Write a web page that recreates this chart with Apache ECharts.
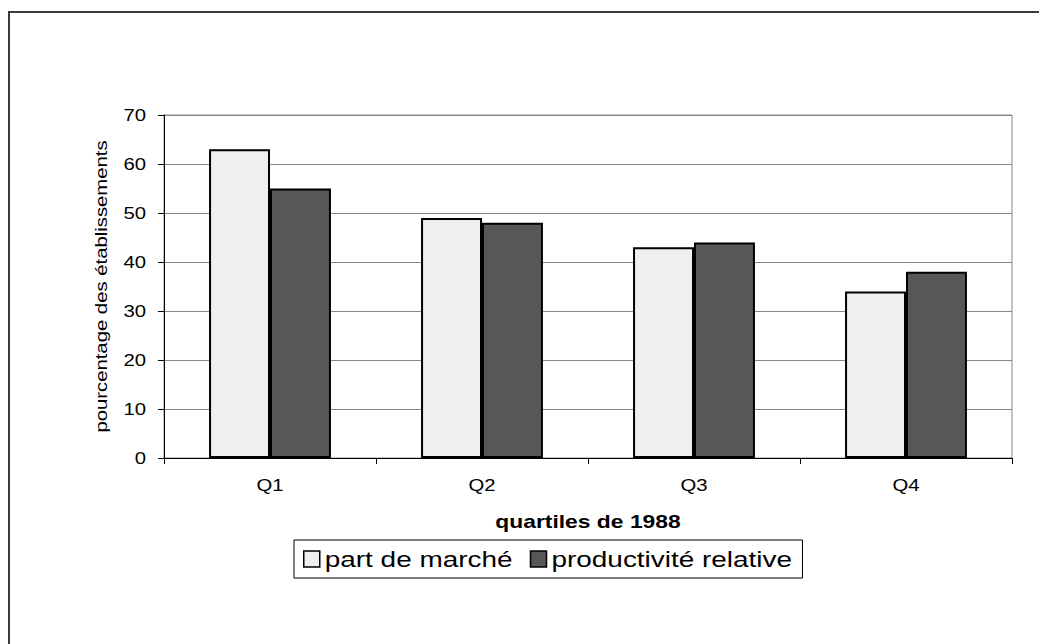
<!DOCTYPE html>
<html>
<head>
<meta charset="utf-8">
<script src="https://cdn.jsdelivr.net/npm/echarts@6/dist/echarts.min.js"></script>
<style>
html,body{margin:0;padding:0;background:#fff;}
#chart{width:1039px;height:644px;}
</style>
</head>
<body>
<div id="chart"></div>
<script>
var categories = ['Q1', 'Q2', 'Q3', 'Q4'];
var partDeMarche = [63, 49, 43, 34];
var productiviteRelative = [55, 48, 44, 38];
var seriesNames = ['part de marché', 'productivité relative'];
var yTicks = {min: 0, max: 70, interval: 10};
var xAxisTitle = 'quartiles de 1988';
var yAxisTitle = 'pourcentage des établissements';

var FONT = '"Liberation Sans", Arial, sans-serif';
var SX = 1.27; // the reference text is horizontally stretched
var chart = echarts.init(document.getElementById('chart'), null, {renderer: 'svg'});
chart.setOption({
  backgroundColor: '#ffffff',
  animation: false,
  graphic: [{
    type: 'rect',
    shape: {x: 9, y: 12, width: 1100, height: 700},
    style: {fill: 'none', stroke: '#3a3a3a', lineWidth: 2},
    silent: true,
    z: 100
  }],
  grid: {
    left: 164, right: 27, top: 115, bottom: 186,
    show: true, borderColor: '#868686', borderWidth: 1, backgroundColor: 'transparent'
  },
  legend: {
    data: seriesNames,
    left: 294, top: 540,
    orient: 'horizontal',
    padding: [8, 10, 8, 9],
    itemGap: 10,
    itemWidth: 16, itemHeight: 16,
    icon: 'rect',
    borderColor: '#000', borderWidth: 1,
    formatter: function (name) {
      return (name === seriesNames[0] ? '{a|' : '{b|') + name + '}';
    },
    textStyle: {
      fontFamily: FONT, fontSize: 22, color: '#000',
      rich: {
        a: {fontFamily: FONT, fontSize: 22, color: '#000', width: 195, lineHeight: 21},
        b: {fontFamily: FONT, fontSize: 22, color: '#000', width: 241, lineHeight: 21}
      }
    },
    itemStyle: {borderColor: '#000', borderWidth: 1.5}
  },
  xAxis: {
    type: 'category',
    data: categories,
    boundaryGap: true,
    name: xAxisTitle,
    nameLocation: 'middle',
    nameGap: 54,
    nameTextStyle: {fontFamily: FONT, fontSize: 18, fontWeight: 'bold', color: '#000'},
    axisLine: {show: true, lineStyle: {color: '#000', width: 1}},
    axisTick: {show: true, alignWithLabel: false, length: 6, lineStyle: {color: '#000'}},
    axisLabel: {fontFamily: FONT, fontSize: 16, color: '#000', margin: 19},
    splitLine: {show: false}
  },
  yAxis: {
    type: 'value',
    min: yTicks.min, max: yTicks.max, interval: yTicks.interval,
    name: yAxisTitle,
    nameLocation: 'middle',
    nameRotate: 90,
    nameGap: 55,
    nameTextStyle: {fontFamily: FONT, fontSize: 16, color: '#000'},
    axisLine: {show: true, lineStyle: {color: '#000', width: 1}},
    axisTick: {show: true, length: 6, lineStyle: {color: '#000'}},
    axisLabel: {fontFamily: FONT, fontSize: 16, color: '#000', margin: 18},
    splitLine: {show: true, lineStyle: {color: '#868686', width: 1}}
  },
  series: [{
    name: seriesNames[0],
    type: 'bar',
    data: partDeMarche,
    barGap: '0%',
    barCategoryGap: '42.5%',
    itemStyle: {color: '#efefef', borderColor: '#000', borderWidth: 2}
  }, {
    name: seriesNames[1],
    type: 'bar',
    data: productiviteRelative,
    barGap: '0%',
    barCategoryGap: '42.5%',
    itemStyle: {color: '#575757', borderColor: '#000', borderWidth: 2}
  }]
});

function stretchTexts() {
  var texts = document.querySelectorAll('#chart svg text');
  for (var i = 0; i < texts.length; i++) {
    var t = texts[i];
    var tr = t.getAttribute('transform') || '';
    if (tr.indexOf('scale(') >= 0) continue;
    var x = parseFloat(t.getAttribute('x')) || 0;
    var y = parseFloat(t.getAttribute('y')) || 0;
    t.setAttribute('transform', (tr ? tr + ' ' : '') +
      'translate(' + x + ' ' + y + ') scale(' + SX + ' 1) translate(' + (-x) + ' ' + (-y) + ')');
  }
}
stretchTexts();
chart.on('finished', stretchTexts);
setTimeout(stretchTexts, 0);
setTimeout(stretchTexts, 50);
</script>
</body>
</html>
